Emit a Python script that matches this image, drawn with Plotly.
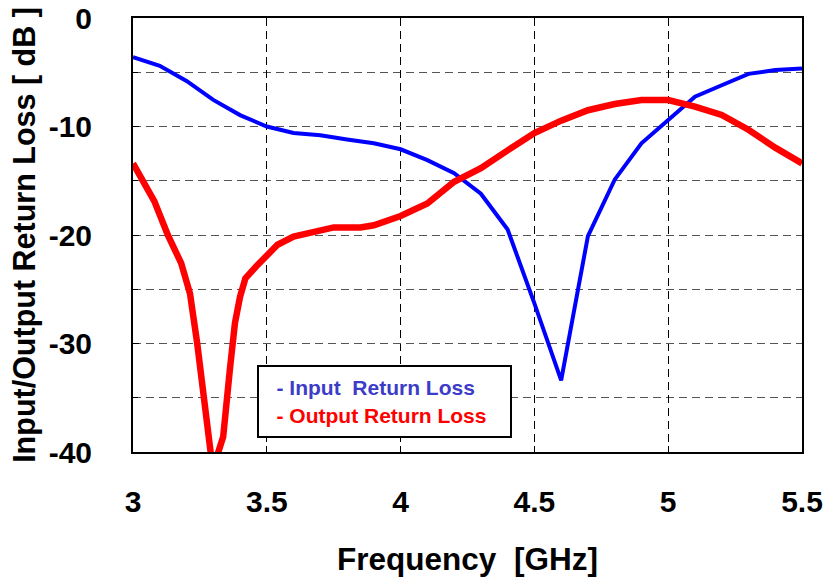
import plotly.graph_objects as go

# ---- data ----
freq_in = [3.0, 3.1, 3.2, 3.3, 3.4, 3.5, 3.6, 3.7, 3.8, 3.9, 4.0, 4.1, 4.2, 4.3, 4.4,
           4.5, 4.6, 4.7, 4.8, 4.9, 5.0, 5.1, 5.2, 5.3, 5.4, 5.5]
input_rl = [-3.6, -4.4, -5.8, -7.55, -8.95, -10.0, -10.6, -10.8, -11.2, -11.55, -12.1,
            -13.1, -14.3, -16.2, -19.5, -26.3, -33.4, -20.1, -14.9, -11.55, -9.4, -7.25,
            -6.2, -5.15, -4.8, -4.65]

freq_out = [3.0, 3.08, 3.13, 3.18, 3.213, 3.225, 3.24, 3.257, 3.27, 3.285, 3.30, 3.315,
            3.337, 3.362, 3.381, 3.40, 3.42, 3.46, 3.50, 3.54, 3.6, 3.7, 3.75, 3.85, 3.9,
            4.0, 4.1, 4.2, 4.3, 4.4, 4.5, 4.6, 4.7, 4.8, 4.9, 5.0, 5.1, 5.2, 5.3, 5.4,
            5.48, 5.5]
output_rl = [-13.4, -16.9, -20.0, -22.6, -25.4, -27.2, -30.0, -33.4, -36.7, -40.3, -42.0,
             -40.3, -38.6, -32.4, -28.1, -25.7, -24.0, -22.9, -22.0, -20.9, -20.15, -19.5,
             -19.3, -19.3, -19.1, -18.25, -17.1, -15.1, -13.85, -12.2, -10.6, -9.46, -8.5,
             -7.93, -7.56, -7.56, -8.17, -8.94, -10.3, -11.95, -13.24, -13.4]

series_names = ["Input  Return Loss", "Output Return Loss"]
x_ticks = [3, 3.5, 4, 4.5, 5, 5.5]
x_tick_labels = ["3", "3.5", "4", "4.5", "5", "5.5"]
y_ticks = [0, -10, -20, -30, -40]
y_tick_labels = ["0", "-10", "-20", "-30", "-40"]

FONT = "Liberation Sans, Arial, sans-serif"

fig = go.Figure()
fig.add_trace(go.Scatter(x=freq_in, y=input_rl, mode="lines", name=series_names[0],
                         line=dict(color="#0000ff", width=4), showlegend=False))
fig.add_trace(go.Scatter(x=freq_out, y=output_rl, mode="lines", name=series_names[1],
                         line=dict(color="#ff0000", width=6.5), showlegend=False))

pad = "&nbsp;" * 3
legend_text = (f"<span style='color:#3c3cc8'>{pad}- {series_names[0].replace('  ', '&nbsp; ')}</span><br>"
               f"<span style='color:#ff0000'>{pad}- {series_names[1]}</span>")
fig.add_annotation(xref="paper", yref="paper", x=(257 - 133) / 669, y=(452 - 365) / 434,
                   xanchor="left", yanchor="top", text=legend_text, showarrow=False,
                   align="left", width=251, height=69, bgcolor="white",
                   bordercolor="black", borderwidth=2, borderpad=0,
                   font=dict(family=FONT, size=21, weight="bold"))

fig.update_layout(
    width=827, height=579,
    margin=dict(l=133, r=25, t=18, b=127),
    paper_bgcolor="white", plot_bgcolor="white",
    font=dict(family=FONT, color="black", weight="bold"),
    xaxis=dict(range=[3, 5.5], tickvals=x_ticks, ticktext=x_tick_labels,
               automargin=False, ticklabeloverflow="allow",
               showgrid=True, gridcolor="black", griddash="8px,5px", gridwidth=1,
               showline=True, linecolor="black", linewidth=2, mirror=True,
               ticks="inside", ticklen=6, tickcolor="black",
               tickfont=dict(family=FONT, size=30, weight="bold"),
               ticklabelstandoff=22,
               title=dict(text="Frequency&nbsp;&nbsp;[GHz]", standoff=31,
                          font=dict(family=FONT, size=31.5, weight="bold")),
               zeroline=False),
    yaxis=dict(range=[-40, 0], tickvals=y_ticks, ticktext=y_tick_labels,
               automargin=False, ticklabeloverflow="allow",
               showgrid=True, gridcolor="#555555", griddash="8px,5px", gridwidth=1,
               minor=dict(dtick=5, tick0=0, showgrid=True, gridcolor="#555555",
                          griddash="8px,5px", ticks="inside", ticklen=5, tickcolor="black"),
               showline=True, linecolor="black", linewidth=2, mirror=True,
               ticks="inside", ticklen=6, tickcolor="black",
               tickfont=dict(family=FONT, size=30, weight="bold"),
               ticklabelstandoff=33,
               title=dict(text="Input/Output Return Loss [ dB ]", standoff=4,
                          font=dict(family=FONT, size=30.5, weight="bold")),
               zeroline=False),
)

# remove the page's default body margin so the figure fills the window exactly
fig.write_html("out.html", config={"displayModeBar": False, "staticPlot": True},
               post_script="document.body.style.margin='0px';document.body.style.overflow='hidden';")
